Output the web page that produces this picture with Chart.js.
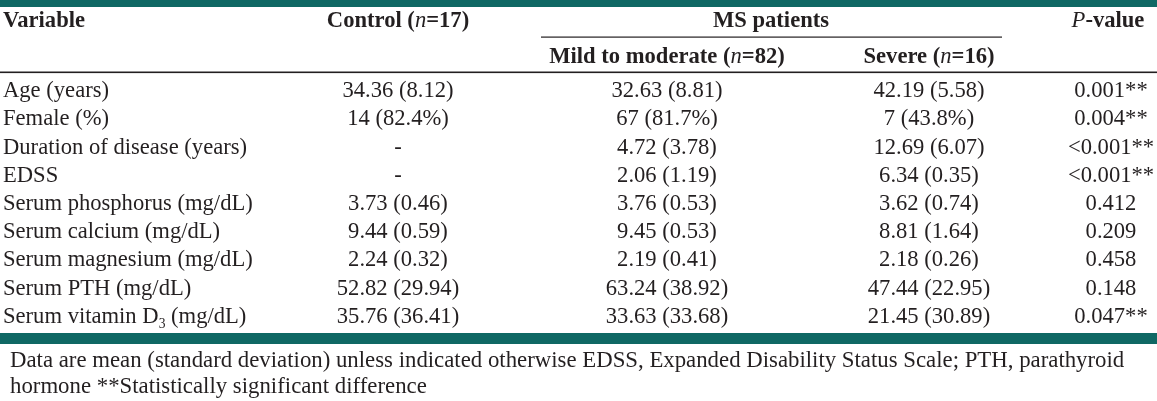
<!DOCTYPE html>
<html><head><meta charset="utf-8">
<script src="https://cdn.jsdelivr.net/npm/chart.js@4/dist/chart.umd.min.js"></script>
<style>html,body{margin:0;padding:0;background:#fff;overflow:hidden}
#wrap{position:relative;width:1157px;height:401px}</style>
</head><body><div id="wrap"><canvas id="c" width="1157" height="401"></canvas></div>
<script>
// ---- data ----
const variables = ['Age (years)', 'Female (%)', 'Duration of disease (years)', 'EDSS',
  'Serum phosphorus (mg/dL)', 'Serum calcium (mg/dL)', 'Serum magnesium (mg/dL)',
  'Serum PTH (mg/dL)', 'Serum vitamin D\u2083 (mg/dL)'];
const control = ['34.36 (8.12)', '14 (82.4%)', '-', '-', '3.73 (0.46)', '9.44 (0.59)', '2.24 (0.32)', '52.82 (29.94)', '35.76 (36.41)'];
const mildModerate = ['32.63 (8.81)', '67 (81.7%)', '4.72 (3.78)', '2.06 (1.19)', '3.76 (0.53)', '9.45 (0.53)', '2.19 (0.41)', '63.24 (38.92)', '33.63 (33.68)'];
const severe = ['42.19 (5.58)', '7 (43.8%)', '12.69 (6.07)', '6.34 (0.35)', '3.62 (0.74)', '8.81 (1.64)', '2.18 (0.26)', '47.44 (22.95)', '21.45 (30.89)'];
const pValues = ['0.001**', '0.004**', '<0.001**', '<0.001**', '0.412', '0.209', '0.458', '0.148', '0.047**'];
const footnoteLines = ['Data are mean (standard deviation) unless indicated otherwise EDSS, Expanded Disability Status Scale; PTH, parathyroid',
  'hormone **Statistically significant difference'];

// ---- layout / style (not data) ----
const FONT = '"Liberation Serif", "Times New Roman", serif';
const SIZE = 22.6;
const FOOT_SIZE = 22.8;
const INK = '#231f20';
const TEAL = '#0f6864';
const COLS = { variable: 3, control: 398, mild: 667, severe: 929, p: 1111 };

function fontStr(seg, size) {
  return (seg.i ? 'italic ' : '') + (seg.b ? 'bold ' : '') + (size * (seg.s || 1)) + 'px ' + FONT;
}
function segsOf(text, bold) {
  const out = [];
  const parts = text.split('\u2083');
  parts.forEach((p, i) => {
    if (p) out.push({ t: p, b: bold });
    if (i < parts.length - 1) out.push({ t: '3', b: bold, s: 0.6, dy: 5 });
  });
  return out;
}
function drawRich(ctx, segs, x, y, align, size) {
  let w = 0;
  segs.forEach(s => { ctx.font = fontStr(s, size); s.w = ctx.measureText(s.t).width; w += s.w; });
  let cx = align === 'center' ? x - w / 2 : (align === 'right' ? x - w : x);
  ctx.textAlign = 'left';
  ctx.textBaseline = 'alphabetic';
  segs.forEach(s => { ctx.font = fontStr(s, size); ctx.fillText(s.t, cx, y + (s.dy || 0)); cx += s.w; });
}

const columns = [
  { key: 'variable', values: variables, align: 'left' },
  { key: 'control', values: control, align: 'center' },
  { key: 'mild', values: mildModerate, align: 'center' },
  { key: 'severe', values: severe, align: 'center' },
  { key: 'p', values: pValues, align: 'center' }
];

const datasets = columns.map(c => ({
  label: c.key,
  data: variables.map((v, i) => ({ x: COLS[c.key], y: v, text: c.values[i] })),
  pointRadius: 0,
  align: c.align
}));

const tablePlugin = {
  id: 'tableText',
  beforeDraw(chart) {
    const ctx = chart.ctx;
    ctx.save();
    ctx.fillStyle = '#fff';
    ctx.fillRect(0, 0, chart.width, chart.height);
    ctx.fillStyle = TEAL;
    ctx.fillRect(0, 0, chart.width, 7);
    ctx.fillRect(0, 333, chart.width, 11);
    ctx.fillStyle = INK;
    ctx.fillRect(0, 71.5, chart.width, 1.6);
    const xs = chart.scales.x;
    ctx.fillRect(541, 36.5, 1002 - 541, 1.2);
    // headers
    drawRich(ctx, [{ t: 'Variable', b: true }], xs.getPixelForValue(COLS.variable), 27, 'left', SIZE);
    drawRich(ctx, [{ t: 'Control (', b: true }, { t: 'n', i: true }, { t: '=17)', b: true }], xs.getPixelForValue(COLS.control), 27, 'center', SIZE);
    drawRich(ctx, [{ t: 'MS patients', b: true }], 771, 27, 'center', SIZE);
    drawRich(ctx, [{ t: 'P', i: true }, { t: '-value', b: true }], 1108, 27, 'center', SIZE);
    drawRich(ctx, [{ t: 'Mild to moderate (', b: true }, { t: 'n', i: true }, { t: '=82)', b: true }], xs.getPixelForValue(COLS.mild), 63, 'center', SIZE);
    drawRich(ctx, [{ t: 'Severe (', b: true }, { t: 'n', i: true }, { t: '=16)', b: true }], xs.getPixelForValue(COLS.severe), 63, 'center', SIZE);
    // footnote
    footnoteLines.forEach((l, i) => drawRich(ctx, [{ t: l }], 10, 367 + i * 26, 'left', FOOT_SIZE));
    ctx.restore();
  },
  afterDatasetsDraw(chart) {
    const ctx = chart.ctx;
    ctx.save();
    ctx.fillStyle = INK;
    chart.data.datasets.forEach((ds, di) => {
      const meta = chart.getDatasetMeta(di);
      meta.data.forEach((pt, i) => {
        drawRich(ctx, segsOf(ds.data[i].text, false), pt.x, pt.y + 6, ds.align, SIZE);
      });
    });
    ctx.restore();
  }
};

new Chart(document.getElementById('c'), {
  type: 'scatter',
  data: { datasets },
  options: {
    responsive: false,
    animation: false,
    events: [],
    layout: { padding: { top: 77, bottom: 70, left: 0, right: 0 } },
    scales: {
      x: { type: 'linear', min: 0, max: 1157, display: false },
      y: { type: 'category', labels: variables, offset: true, display: false }
    },
    plugins: { legend: { display: false }, tooltip: { enabled: false } }
  },
  plugins: [tablePlugin]
});
</script></body></html>
